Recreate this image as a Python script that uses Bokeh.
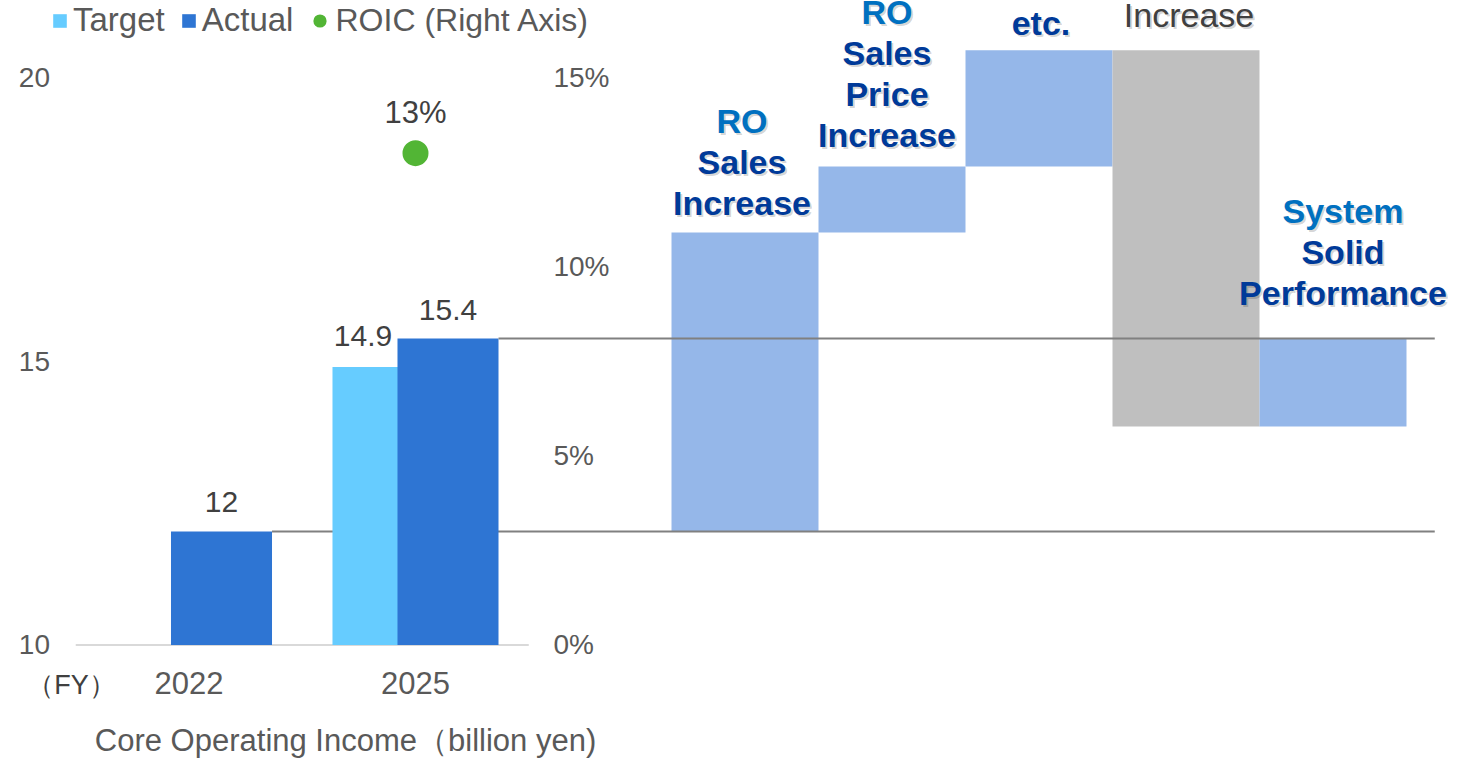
from bokeh.plotting import figure
from bokeh.models import (Range1d, ColumnDataSource, Legend, LegendItem)
from bokeh.core.properties import value
from bokeh.embed import file_html
from bokeh.resources import INLINE

# ---------------- data ----------------
years = ["2022", "2025"]
target = [None, 14.9]
actual = [12.0, 15.4]
roic_year = "2025"
roic_pct = 13.0
left_ticks = [10, 15, 20]
pct_ticks = [0, 5, 10, 15]
pct_labels = ["0%", "5%", "10%", "15%"]
wf_start = 12.0
wf_deltas = [5.27, 1.16, 2.05, -6.63, 1.55]
wf_label_lines = [["RO", "Sales", "Increase"],
                  ["RO", "Sales", "Price", "Increase"],
                  ["etc."],
                  ["Increase"],
                  ["System", "Solid", "Performance"]]
x_title = "Core Operating Income（billion yen)"
fy_text = "（FY）"

# ---------------- layout / style ----------------
W, H = 1470, 759
FONT = "Liberation Sans"
GRAY_TXT = "#595959"
DARK_TXT = "#404040"
C_TARGET = "#66CCFF"
C_ACTUAL = "#2E75D3"
C_UP = "#95B7E9"
C_DOWN = "#BFBFBF"
C_ROIC = "#52B535"
C_LINE = "#808080"
C_LIGHT = "#0070C0"
C_NAVY = "#003A99"

G_START, G_END = -0.8322, 5.6578        # group axis (2022=0, 2025=1)
Y_START, Y_END = 7.982, 21.357
P_START, P_END = (Y_START - 10) * 1.5, (Y_END - 10) * 1.5
WF_START, WF_END = -5.0646, 4.9354
BAR_W = 0.446
DODGE = 0.1435
LINE_END = 5.50
PCT_X = 1.609
TICK_X = -0.6137
FY_X = -0.519
TITLE_X = 0.691

p = figure(width=W, height=H, output_backend="svg", toolbar_location=None,
           x_range=Range1d(G_START, G_END), y_range=Range1d(Y_START, Y_END),
           x_axis_type=None, y_axis_type=None, min_border_left=0, min_border_right=0,
           min_border_top=0, min_border_bottom=0, outline_line_color=None)
p.extra_y_ranges = {"pct": Range1d(P_START, P_END)}
p.extra_x_ranges = {"wf": Range1d(WF_START, WF_END)}
p.grid.visible = False

gx = list(range(len(years)))

def fmt(v):
    return f"{v:g}"

# ----- waterfall bars -----
bottoms, tops, colors = [], [], []
cur = wf_start
for d in wf_deltas:
    nxt = cur + d
    bottoms.append(min(cur, nxt))
    tops.append(max(cur, nxt))
    colors.append(C_UP if d >= 0 else C_DOWN)
    cur = nxt
wf_end_val = cur
wf_idx = list(range(len(wf_deltas)))
p.vbar(x=wf_idx, bottom=bottoms, top=tops, width=1.0, fill_color=colors,
       line_color=None, x_range_name="wf")

# baseline of left chart
p.segment(x0=[-0.5], x1=[1.5], y0=[left_ticks[0]], y1=[left_ticks[0]],
          line_color="#D9D9D9", line_width=2)

# start reference line (12)
p.segment(x0=[gx[0] + DODGE + BAR_W / 2], x1=[LINE_END], y0=[wf_start], y1=[wf_start],
          line_color=C_LINE, line_width=2)

# ----- left bars -----
t_vals = [t for t in target if t is not None]
t_src = ColumnDataSource(dict(x=[g - DODGE for g, t in zip(gx, target) if t is not None],
                              top=t_vals, lab=[fmt(v) for v in t_vals]))
a_src = ColumnDataSource(dict(x=[g + DODGE for g in gx], top=actual,
                              lab=[fmt(v) for v in actual]))
r_t = p.vbar(x="x", top="top", bottom=left_ticks[0], width=BAR_W, source=t_src,
             fill_color=C_TARGET, line_color=None)
r_a = p.vbar(x="x", top="top", bottom=left_ticks[0], width=BAR_W, source=a_src,
             fill_color=C_ACTUAL, line_color=None)

# end reference line (15.4)
p.segment(x0=[gx[1] + DODGE + BAR_W / 2], x1=[LINE_END], y0=[wf_end_val], y1=[wf_end_val],
          line_color=C_LINE, line_width=2)

# data labels
p.text(x="x", y="top", text="lab", source=t_src,
       text_align="center", text_baseline="alphabetic", y_offset=-31, x_offset=-20,
       text_font=value(FONT), text_font_size="30px", text_color=DARK_TXT)
p.text(x="x", y="top", text="lab", source=a_src,
       text_align="center", text_baseline="alphabetic", y_offset=-29,
       text_font=value(FONT), text_font_size="30px", text_color=DARK_TXT)

# ROIC
rx = years.index(roic_year)
r_dot = p.scatter(x=[rx], y=[roic_pct], size=26, marker="circle", fill_color=C_ROIC,
                  line_color=None, y_range_name="pct")
p.text(x=[rx], y=[roic_pct], text=[f"{roic_pct:g}%"], y_range_name="pct",
       text_align="center", text_baseline="alphabetic", y_offset=-41,
       text_font=value(FONT), text_font_size="31px", text_color=DARK_TXT)

# left axis labels
p.text(x=[TICK_X] * len(left_ticks), y=left_ticks, text=[str(t) for t in left_ticks],
       text_align="right", text_baseline="alphabetic", y_offset=0,
       text_font=value(FONT), text_font_size="28px", text_color=GRAY_TXT)

# right (percentage) axis labels
p.text(x=[PCT_X] * len(pct_ticks), y=pct_ticks, text=pct_labels, y_range_name="pct",
       text_align="left", text_baseline="alphabetic", y_offset=0,
       text_font=value(FONT), text_font_size="28px", text_color=GRAY_TXT)

# year labels
p.text(x=gx, y=[left_ticks[0]] * len(gx), text=years, text_align="center",
       text_baseline="alphabetic", y_offset=38,
       text_font=value(FONT), text_font_size="31px", text_color=GRAY_TXT)

# (FY)
p.text(x=[FY_X], y=[left_ticks[0]], text=[fy_text], text_align="center",
       text_baseline="alphabetic", y_offset=40,
       text_font=value(FONT), text_font_size="27px", text_color=DARK_TXT)

# x title
p.text(x=[TITLE_X], y=[left_ticks[0]], text=[x_title], text_align="center",
       text_baseline="alphabetic", y_offset=96,
       text_font=value(FONT), text_font_size="31px", text_color=GRAY_TXT)

# waterfall labels
last_off = [-29.5, -31.5, -27.5, -35.5, -45.5]
x_off = [-3, -5, 2, 3, 10]
LS = 41
lx, ly, lt, lc, lyo, lxo, lw = [], [], [], [], [], [], []
for i, lines in enumerate(wf_label_lines):
    n = len(lines)
    for j, s in enumerate(lines):
        lx.append(i)
        ly.append(tops[i])
        lt.append(s)
        if wf_deltas[i] < 0:
            lc.append(DARK_TXT); lw.append("normal")
        elif j == 0 and n > 1:
            lc.append(C_LIGHT); lw.append("bold")
        else:
            lc.append(C_NAVY); lw.append("bold")
        lyo.append(last_off[i] - (n - 1 - j) * LS)
        lxo.append(x_off[i])
lsrc = ColumnDataSource(dict(x=lx, y=ly, t=lt, c=lc, yo=lyo, xo=lxo, w=lw,
                             yo2=[v + 2 for v in lyo], xo2=[v + 2 for v in lxo]))
p.text(x="x", y="y", text="t", source=lsrc, x_range_name="wf", x_offset="xo2", y_offset="yo2",
       text_align="center", text_baseline="alphabetic", text_font=value(FONT),
       text_font_size="34px", text_font_style="w", text_color="#000000", text_alpha=0.18)
p.text(x="x", y="y", text="t", source=lsrc, x_range_name="wf", x_offset="xo", y_offset="yo",
       text_align="center", text_baseline="alphabetic", text_font=value(FONT),
       text_font_size="34px", text_font_style="w", text_color="c")

# legends
leg1 = Legend(items=[LegendItem(label="Target", renderers=[r_t]),
                     LegendItem(label="Actual", renderers=[r_a])],
              orientation="horizontal", location=(51, 720), glyph_width=17, glyph_height=17,
              label_height=17, label_standoff=5, spacing=15, padding=0, margin=0,
              border_line_alpha=0, background_fill_alpha=0,
              label_text_font=FONT, label_text_font_size="33px", label_text_color=GRAY_TXT)
leg2 = Legend(items=[LegendItem(label="ROIC (Right Axis)", renderers=[r_dot])],
              orientation="horizontal", location=(302.5, 720.5), glyph_width=33, glyph_height=33,
              label_standoff=0, spacing=0, padding=0, margin=0,
              border_line_alpha=0, background_fill_alpha=0,
              label_text_font=FONT, label_text_font_size="32px", label_text_color=GRAY_TXT)
p.add_layout(leg1)
p.add_layout(leg2)

open("out.html", "w").write(file_html(p, INLINE))
